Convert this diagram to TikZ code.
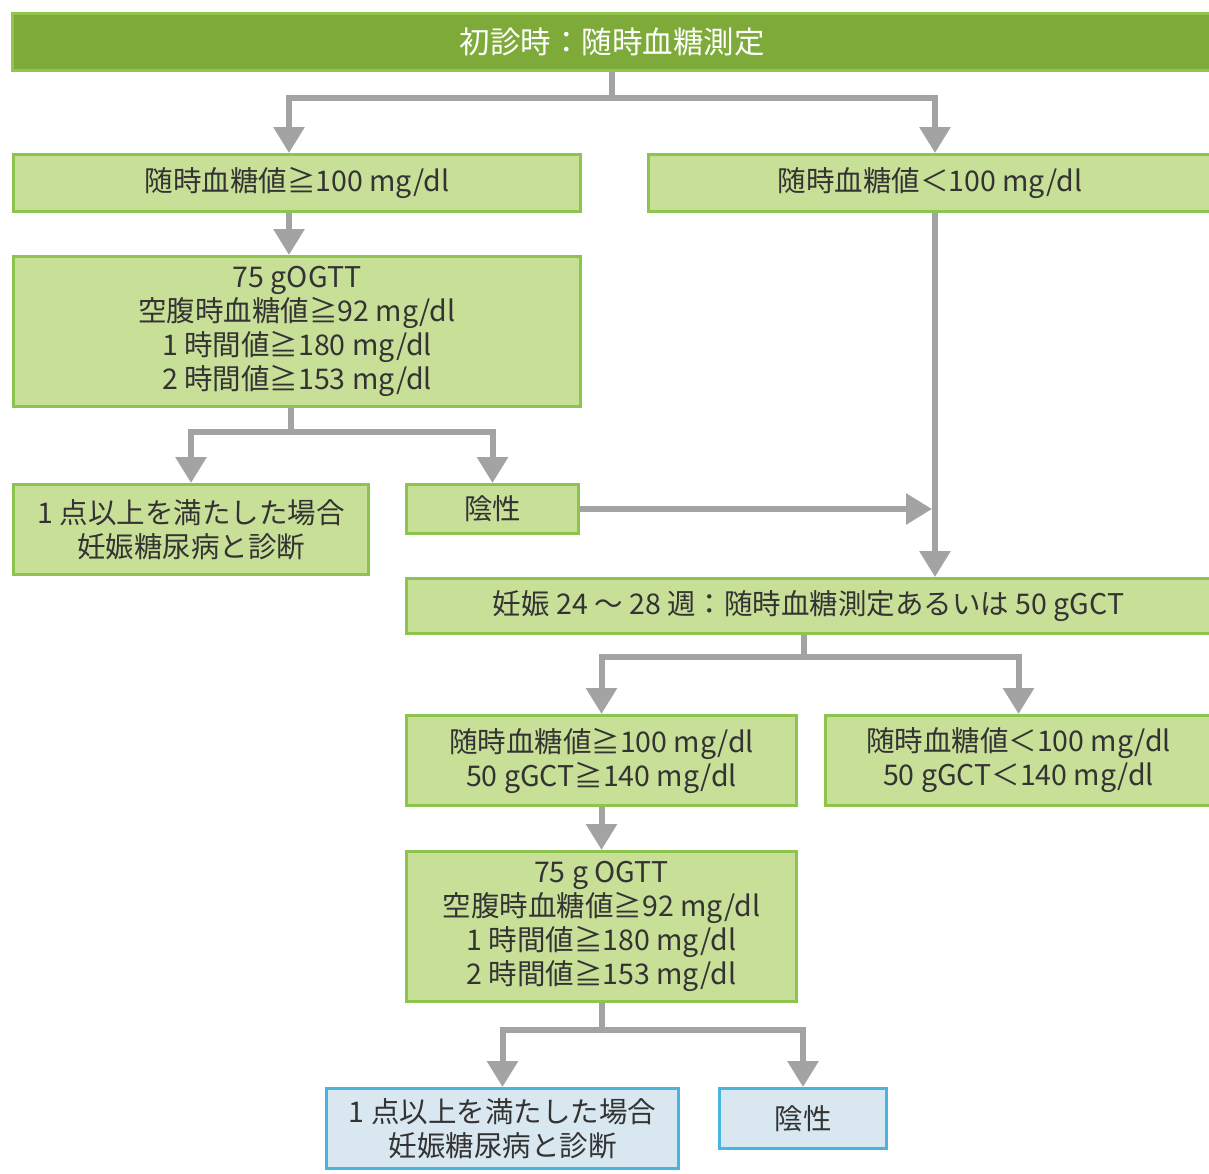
\documentclass[tikz,border=0pt]{standalone}
\usepackage{fontspec}
\setmainfont{Noto Sans CJK JP}
\usetikzlibrary{arrows.meta,calc}
\definecolor{topfill}{HTML}{7DAA38}
\definecolor{topdraw}{HTML}{93C44E}
\definecolor{gfill}{HTML}{C8DF98}
\definecolor{gdraw}{HTML}{8DC44E}
\definecolor{bfill}{HTML}{D9E7F1}
\definecolor{bdraw}{HTML}{4BB4DE}
\definecolor{conncol}{HTML}{A3A3A3}
\definecolor{txt}{HTML}{333333}
\tikzset{
  box/.style={draw=gdraw, fill=gfill, line width=3pt, align=center, inner sep=0pt,
    text=txt, font=\fontsize{28.5}{34}\selectfont},
  bluebox/.style={box, draw=bdraw, fill=bfill},
  topbox/.style={box, draw=topdraw, fill=topfill, text=white, font=\fontsize{30.5}{34}\selectfont},
  conn/.style={draw=conncol, line width=6pt},
  arr/.style={conn, -{Triangle[width=30pt,length=26pt]}},
}
\begin{document}
\begin{tikzpicture}[x=1pt,y=-1pt]
\useasboundingbox (0,0) rectangle (1209,1173);
\node[topbox, minimum width=1200pt, minimum height=57pt] (top) at (612,42) {初診時：随時血糖測定};
\node[box, minimum width=567pt, minimum height=57pt] (A) at (297,183) {随時血糖値≧100 mg/dl};
\node[box, minimum width=564pt, minimum height=57pt] (B) at (930,183) {随時血糖値＜100 mg/dl};
\node[box, minimum width=567pt, minimum height=150pt] (C) at (297,331.5) {75 gOGTT\\空腹時血糖値≧92 mg/dl\\1 時間値≧180 mg/dl\\2 時間値≧153 mg/dl};
\node[box, minimum width=355pt, minimum height=90pt] (D) at (191,529.5) {1 点以上を満たした場合\\妊娠糖尿病と診断};
\node[box, minimum width=172pt, minimum height=49pt] (E) at (492.5,509) {陰性};
\node[box, minimum width=804pt, minimum height=55pt] (F) at (808.5,606) {妊娠 24 ～ 28 週：随時血糖測定あるいは 50 gGCT};
\node[box, minimum width=390pt, minimum height=90pt] (G) at (601.5,760.5) {随時血糖値≧100 mg/dl\\50 gGCT≧140 mg/dl};
\node[box, minimum width=387pt, minimum height=90pt] (H) at (1018.5,760.5) {随時血糖値＜100 mg/dl\\50 gGCT＜140 mg/dl};
\node[box, minimum width=390pt, minimum height=150pt] (I) at (601.5,926.5) {75 g OGTT\\空腹時血糖値≧92 mg/dl\\1 時間値≧180 mg/dl\\2 時間値≧153 mg/dl};
\node[bluebox, minimum width=352pt, minimum height=80pt] (J) at (502.5,1128.5) {1 点以上を満たした場合\\妊娠糖尿病と診断};
\node[bluebox, minimum width=167pt, minimum height=60pt] (K) at (803,1118.5) {陰性};
% top split
\coordinate (j1) at (top.south |- 0,98);
\draw[conn] (top.south) -- (j1);
\draw[arr] (j1) -| ($(A.north)+(-8,0)$);
\draw[arr] (j1) -| ($(B.north)+(5,0)$);
% A to C
\draw[arr] ($(A.south)+(-8,0)$) -- ($(C.north)+(-8,0)$);
% C split
\coordinate (j2) at ($(C.south |- 0,432)+(-6,0)$);
\draw[conn] ($(C.south)+(-6,0)$) -- (j2);
\draw[arr] (j2) -| (D.north);
\draw[arr] (j2) -| (E.north);
% B down to F
\draw[arr] ($(B.south)+(5,0)$) -- ($(B.south |- F.north)+(5,0)$);
% E to vertical line
\draw[arr] (E.east) -- ($(B.south |- E.east)+(2,0)$);
% F split
\coordinate (j3) at ($(F.south |- 0,657)+(-5,0)$);
\draw[conn] ($(F.south)+(-5,0)$) -- (j3);
\draw[arr] (j3) -| (G.north);
\draw[arr] (j3) -| (H.north);
% G to I
\draw[arr] (G.south) -- (I.north);
% I split
\coordinate (j4) at (I.south |- 0,1030);
\draw[conn] (I.south) -- (j4);
\draw[arr] (j4) -| (J.north);
\draw[arr] (j4) -| (K.north);
\end{tikzpicture}
\end{document}
